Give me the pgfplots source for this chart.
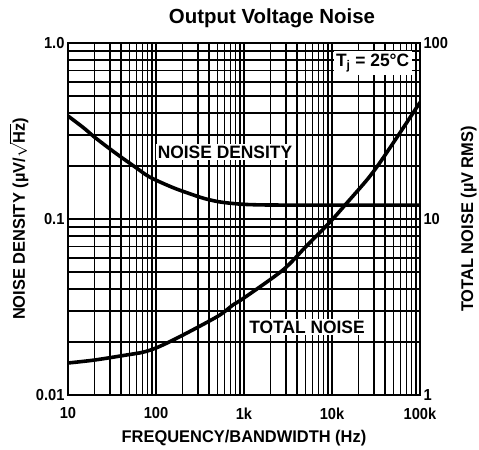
\documentclass[border=0pt]{standalone}
\usepackage{fontspec}
\setmainfont{Liberation Sans}
\newfontfamily\cond[FakeStretch=0.92]{Liberation Sans}
\newfontfamily\condl[FakeStretch=0.97]{Liberation Sans}
\usepackage{pgfplots}
\pgfplotsset{compat=1.18}
\newcommand\tk{\cond\bfseries\fontsize{16}{18}\selectfont}
\newcommand\lb{\condl\bfseries\fontsize{17}{19}\selectfont}
\newcommand\ib{\condl\bfseries\fontsize{18}{20}\selectfont}
\begin{document}
\begin{tikzpicture}
\useasboundingbox (-68bp,-55bp) rectangle (411bp,395bp);
\begin{axis}[
  name=main, at={(0,0)}, anchor=south west,
  scale only axis, width=352bp, height=352bp,
  xmode=log, ymode=log,
  xmin=10, xmax=100000, ymin=0.01, ymax=1,
  xtick={10,100,1000,10000,100000},
  xticklabels={10,100,1k,10k,100k},
  ytick={0.01,0.1,1}, yticklabels={0.01,0.1,1.0},
  xtick pos=bottom, ytick pos=left,
  grid=both,
  major grid style={black, line width=1.15pt},
  minor grid style={black, line width=1.15pt},
  axis line style={black, line width=1.9pt},
  major tick length=0pt, minor tick length=0pt,
  tick label style={font=\tk},
  /pgf/number format/assume math mode=true,
  xticklabel style={yshift=-9bp},
  xlabel={FREQUENCY/BANDWIDTH (Hz)},
  xlabel style={font=\lb, yshift=-4bp},
  ylabel={NOISE DENSITY (µV/$\boldmath\sqrt{\hbox{\lb Hz}}$)},
  ylabel style={font=\lb, inner sep=1pt},
  ylabel shift=3bp,
  clip=true,
]
\addplot[black, line width=3.6pt, smooth] coordinates {
  (10,0.385) (15,0.33) (20,0.292) (30,0.25) (40,0.225) (60,0.195)
  (85,0.173) (150,0.152) (225,0.141) (350,0.131) (533,0.125)
  (900,0.1215) (1500,0.1203) (3000,0.12) (10000,0.12) (100000,0.12)
};
\node[fill=white, inner sep=2pt, font=\ib] at (axis cs:608,0.24) {NOISE DENSITY};
\node[fill=white, inner sep=2pt, font=\ib] at (axis cs:5200,0.0243) {TOTAL NOISE};
\node[fill=white, inner sep=2.5pt, font=\ib] at (axis cs:29000,0.77) {T\textsubscript{j} = 25°C};
\end{axis}
\begin{axis}[
  at={(0,0)}, anchor=south west,
  scale only axis, width=352bp, height=352bp,
  xmode=log, ymode=log,
  xmin=10, xmax=100000, ymin=1, ymax=100,
  hide x axis,
  axis y line*=right,
  axis line style={black, line width=1.9pt},
  ytick={1,10,100}, yticklabels={1,10,100},
  major tick length=0pt, minor tick length=0pt,
  tick label style={font=\tk},
  /pgf/number format/assume math mode=true,
  ylabel={TOTAL NOISE (µV RMS)},
  ylabel style={font=\lb},
  ylabel shift=6bp,
]
\addplot[black, line width=3.6pt, smooth] coordinates {
  (10,1.52) (20,1.58) (47,1.69) (71,1.75) (100,1.85) (156,2.05) (300,2.43)
  (533,2.85) (750,3.25) (1000,3.56) (2770,5.13) (5000,6.93) (9490,9.6)
  (14060,12.0) (25000,16.7) (35000,20.9) (59000,30.8) (100000,46)
};
\end{axis}
\node[font=\bfseries\fontsize{20.5}{24}\selectfont] at (204bp,377bp) {Output Voltage Noise};
\end{tikzpicture}
\end{document}
